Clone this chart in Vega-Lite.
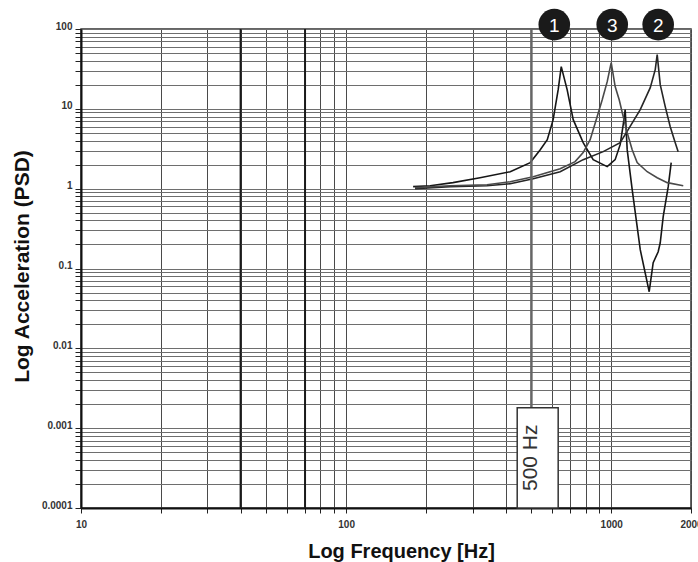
{
  "$schema": "https://vega.github.io/schema/vega-lite/v6.json",
  "width": 610,
  "height": 479,
  "autosize": {"type": "none"},
  "padding": {"left": 81, "top": 29, "right": 7, "bottom": 54},
  "background": "white",
  "config": {
    "view": {"stroke": "#333", "strokeWidth": 1.5},
    "axis": {
      "grid": true,
      "gridWidth": 1,
      "gridOpacity": 1,
      "domainColor": "#111",
      "domainWidth": 2,
      "tickColor": "#222",
      "labelFont": "Liberation Sans",
      "labelFontWeight": "bold",
      "labelFontSize": 10,
      "labelColor": "#333",
      "titleFont": "Liberation Sans",
      "titleFontWeight": "bold",
      "titleColor": "#111"
    }
  },
  "datasets": {
    "curves": [
      {"c": "1", "i": 0, "f": 179, "v": 1.06},
      {"c": "1", "i": 1, "f": 207.5, "v": 1.09},
      {"c": "1", "i": 2, "f": 253, "v": 1.19},
      {"c": "1", "i": 3, "f": 320, "v": 1.37},
      {"c": "1", "i": 4, "f": 416, "v": 1.63},
      {"c": "1", "i": 5, "f": 495, "v": 2.12},
      {"c": "1", "i": 6, "f": 540, "v": 3.08},
      {"c": "1", "i": 7, "f": 574, "v": 4.11},
      {"c": "1", "i": 8, "f": 604, "v": 7.32},
      {"c": "1", "i": 9, "f": 631, "v": 17.4},
      {"c": "1", "i": 10, "f": 648, "v": 33.8},
      {"c": "1", "i": 11, "f": 682, "v": 17.4},
      {"c": "1", "i": 12, "f": 719, "v": 7.32},
      {"c": "1", "i": 13, "f": 784, "v": 3.77},
      {"c": "1", "i": 14, "f": 855, "v": 2.31},
      {"c": "1", "i": 15, "f": 966, "v": 1.89},
      {"c": "1", "i": 16, "f": 1035, "v": 2.31},
      {"c": "1", "i": 17, "f": 1081, "v": 3.56},
      {"c": "1", "i": 18, "f": 1110, "v": 6.34},
      {"c": "1", "i": 19, "f": 1129, "v": 9.77},
      {"c": "1", "i": 20, "f": 1149, "v": 3.08},
      {"c": "1", "i": 21, "f": 1200, "v": 0.97},
      {"c": "1", "i": 22, "f": 1287, "v": 0.172},
      {"c": "1", "i": 23, "f": 1391, "v": 0.0512},
      {"c": "1", "i": 24, "f": 1440, "v": 0.118},
      {"c": "1", "i": 25, "f": 1504, "v": 0.162},
      {"c": "1", "i": 26, "f": 1531, "v": 0.21},
      {"c": "1", "i": 27, "f": 1571, "v": 0.446},
      {"c": "1", "i": 28, "f": 1641, "v": 1.06},
      {"c": "1", "i": 29, "f": 1684, "v": 2.12},
      {"c": "2", "i": 0, "f": 182, "v": 1.0},
      {"c": "2", "i": 1, "f": 247, "v": 1.06},
      {"c": "2", "i": 2, "f": 340, "v": 1.09},
      {"c": "2", "i": 3, "f": 416, "v": 1.155},
      {"c": "2", "i": 4, "f": 508, "v": 1.334},
      {"c": "2", "i": 5, "f": 642, "v": 1.633},
      {"c": "2", "i": 6, "f": 784, "v": 2.31},
      {"c": "2", "i": 7, "f": 933, "v": 2.91},
      {"c": "2", "i": 8, "f": 1081, "v": 3.77},
      {"c": "2", "i": 9, "f": 1159, "v": 5.49},
      {"c": "2", "i": 10, "f": 1287, "v": 9.77},
      {"c": "2", "i": 11, "f": 1404, "v": 18.4},
      {"c": "2", "i": 12, "f": 1466, "v": 31},
      {"c": "2", "i": 13, "f": 1491, "v": 47.8},
      {"c": "2", "i": 14, "f": 1531, "v": 20.1},
      {"c": "2", "i": 15, "f": 1599, "v": 10.66},
      {"c": "2", "i": 16, "f": 1670, "v": 5.98},
      {"c": "2", "i": 17, "f": 1744, "v": 3.77},
      {"c": "2", "i": 18, "f": 1789, "v": 2.91},
      {"c": "3", "i": 0, "f": 182, "v": 1.03},
      {"c": "3", "i": 1, "f": 247, "v": 1.09},
      {"c": "3", "i": 2, "f": 340, "v": 1.12},
      {"c": "3", "i": 3, "f": 416, "v": 1.22},
      {"c": "3", "i": 4, "f": 508, "v": 1.41},
      {"c": "3", "i": 5, "f": 642, "v": 1.78},
      {"c": "3", "i": 6, "f": 731, "v": 2.18},
      {"c": "3", "i": 7, "f": 784, "v": 2.83},
      {"c": "3", "i": 8, "f": 833, "v": 4.11},
      {"c": "3", "i": 9, "f": 878, "v": 7.32},
      {"c": "3", "i": 10, "f": 925, "v": 13.0},
      {"c": "3", "i": 11, "f": 966, "v": 21.9},
      {"c": "3", "i": 12, "f": 1000, "v": 37.9},
      {"c": "3", "i": 13, "f": 1035, "v": 19.0},
      {"c": "3", "i": 14, "f": 1072, "v": 13.0},
      {"c": "3", "i": 15, "f": 1110, "v": 8.0},
      {"c": "3", "i": 16, "f": 1149, "v": 5.03},
      {"c": "3", "i": 17, "f": 1200, "v": 3.08},
      {"c": "3", "i": 18, "f": 1253, "v": 2.12},
      {"c": "3", "i": 19, "f": 1367, "v": 1.63},
      {"c": "3", "i": 20, "f": 1491, "v": 1.37},
      {"c": "3", "i": 21, "f": 1627, "v": 1.19},
      {"c": "3", "i": 22, "f": 1870, "v": 1.09}
    ],
    "thick": [{"f": 40}, {"f": 70}],
    "marker": [{"f": 500, "v": 0.0018, "v2": 100}],
    "box": [{"f": 442, "f2": 631, "v": 0.0001, "v2": 0.0018}],
    "boxlabel": [{"f": 500, "v": 0.000426, "t": "500 Hz"}],
    "labels": [
      {"f": 610, "v": 113.5, "t": "1"},
      {"f": 1009, "v": 113.5, "t": "3"},
      {"f": 1504, "v": 113.5, "t": "2"}
    ]
  },
  "layer": [
    {
      "data": {"name": "curves"},
      "mark": {"type": "line", "strokeWidth": 1.6, "clip": true},
      "encoding": {
        "x": {
          "field": "f", "type": "quantitative",
          "scale": {"type": "log", "domain": [10, 2000], "nice": false},
          "axis": {
            "title": "Log Frequency [Hz]",
            "titleFontSize": 20,
            "titleBaseline": "middle",
            "titleY": 43,
            "titleX": 320,
            "gridColor": "#4a4a4a",
            "values": [10, 20, 30, 40, 50, 60, 70, 80, 90, 100, 200, 300, 400, 500, 600, 700, 800, 900, 1000, 2000],
            "labelExpr": "indexof([10, 100, 1000, 2000], datum.value) >= 0 ? datum.value + '' : ''",
            "tickSize": 5,
            "labelPadding": 6,
            "labelFlush": false,
            "labelOverlap": false
          }
        },
        "y": {
          "field": "v", "type": "quantitative",
          "scale": {"type": "log", "domain": [0.0001, 100], "nice": false},
          "axis": {
            "title": "Log Acceleration (PSD)",
            "titleFontSize": 21,
            "titleBaseline": "middle",
            "titleX": -59,
            "titleY": 237,
            "gridColor": "#6e6e6e",
            "values": [0.0001, 0.0002, 0.0003, 0.0004, 0.0005, 0.0006, 0.0007, 0.0008, 0.0009, 0.001, 0.002, 0.003, 0.004, 0.005, 0.006, 0.007, 0.008, 0.009, 0.01, 0.02, 0.03, 0.04, 0.05, 0.06, 0.07, 0.08, 0.09, 0.1, 0.2, 0.3, 0.4, 0.5, 0.6, 0.7, 0.8, 0.9, 1, 2, 3, 4, 5, 6, 7, 8, 9, 10, 20, 30, 40, 50, 60, 70, 80, 90, 100],
            "labelExpr": "indexof([0.0001, 0.001, 0.01, 0.1, 1, 10, 100], datum.value) >= 0 ? datum.value + '' : ''",
            "tickSize": 6,
            "labelPadding": 3,
            "labelOffset": -3,
            "labelFlush": false,
            "labelOverlap": false
          }
        },
        "detail": {"field": "c"},
        "order": {"field": "i", "type": "quantitative"},
        "color": {
          "field": "c", "type": "nominal",
          "scale": {"domain": ["1", "2", "3"], "range": ["#161616", "#262626", "#4a4a4a"]},
          "legend": null
        }
      }
    },
    {
      "data": {"name": "thick"},
      "mark": {"type": "rule", "color": "#1a1a1a", "strokeWidth": 2},
      "encoding": {"x": {"field": "f", "type": "quantitative"}}
    },
    {
      "data": {"name": "marker"},
      "mark": {"type": "rule", "color": "#666", "strokeWidth": 2.5},
      "encoding": {
        "x": {"field": "f", "type": "quantitative"},
        "y": {"field": "v", "type": "quantitative"},
        "y2": {"field": "v2"}
      }
    },
    {
      "data": {"name": "box"},
      "mark": {"type": "rect", "fill": "white", "stroke": "#333", "strokeWidth": 1.5},
      "encoding": {
        "x": {"field": "f", "type": "quantitative"},
        "x2": {"field": "f2"},
        "y": {"field": "v", "type": "quantitative"},
        "y2": {"field": "v2"}
      }
    },
    {
      "data": {"name": "boxlabel"},
      "mark": {"type": "text", "angle": 270, "font": "Liberation Sans", "fontSize": 21, "color": "#333", "align": "center", "baseline": "middle"},
      "encoding": {
        "x": {"field": "f", "type": "quantitative"},
        "y": {"field": "v", "type": "quantitative"},
        "text": {"field": "t"}
      }
    },
    {
      "data": {"name": "labels"},
      "mark": {"type": "point", "shape": "circle", "filled": true, "size": 1000, "color": "#1a1a1a", "opacity": 1},
      "encoding": {
        "x": {"field": "f", "type": "quantitative"},
        "y": {"field": "v", "type": "quantitative"}
      }
    },
    {
      "data": {"name": "labels"},
      "mark": {"type": "text", "font": "Liberation Sans", "fontSize": 19, "color": "white", "align": "center", "baseline": "middle", "dy": 1},
      "encoding": {
        "x": {"field": "f", "type": "quantitative"},
        "y": {"field": "v", "type": "quantitative"},
        "text": {"field": "t"}
      }
    }
  ]
}
